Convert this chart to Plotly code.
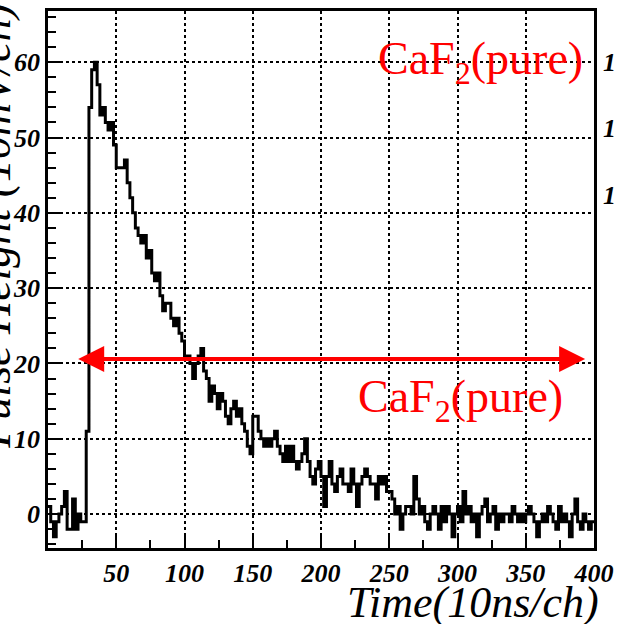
import numpy as np
import plotly.graph_objects as go

# Pulse shape histogram: 2 channels per bin, channels 0-400
bin_width = 2
pulse_height = [
    1, -1, -3, -1, 0, 1, 3, -2, -2, 2,
    -2, 0, -1, -1, 11, 54, 59, 60, 57, 53,
    54, 52, 51, 52, 49, 46, 46, 46, 47, 44,
    42, 40, 38, 37, 36, 37, 34, 35, 32, 31,
    32, 29, 27, 28, 28, 26, 25, 26, 24, 23,
    21, 21, 20, 18, 20, 21, 22, 19, 18, 15,
    17, 16, 14, 16, 15, 13, 12, 14, 15, 13,
    14, 12, 11, 9, 8, 13, 13, 11, 10, 9,
    10, 9, 10, 11, 9, 8, 7, 9, 7, 9,
    7, 6, 7, 8, 10, 7, 5, 4, 6, 7,
    5, 1, 5, 7, 4, 3, 5, 6, 4, 4,
    3, 6, 4, 1, 4, 5, 6, 5, 4, 4,
    2, 5, 4, 5, 3, 3, 2, 0, 1, -2,
    0, 1, 1, 0, 5, 2, 0, 1, -1, -2,
    0, 1, 0, -2, 1, -1, 1, 0, -3, 0,
    1, -1, 3, 0, 1, -1, 0, -3, 0, 1,
    2, -1, 0, 1, -2, 0, -1, 0, 0, -1,
    1, 0, -1, 0, -1, 0, 1, 0, -1, -3,
    -1, 0, -1, 1, 0, -1, -2, 1, -1, 0,
    -1, -3, 0, 2, -1, -2, 0, -1, -2, -1,
]

x_ticks = [50, 100, 150, 200, 250, 300, 350, 400]
y_ticks = [0, 10, 20, 30, 40, 50, 60]
x_range = [0, 400]
y_range = [-4.5, 66.8]

# Arrow marking the fitted window
arrow_start, arrow_end, arrow_level = 21, 393.5, 20.6

label = "CaF<sub>2</sub>(pure)"
x_title = "Time(10ns/ch)"
y_title = "Pulse Height (10mV/ch)"

serif = "Liberation Serif"

edges = np.arange(len(pulse_height) + 1) * bin_width
step_y = list(pulse_height) + [pulse_height[-1]]

fig = go.Figure()
fig.add_trace(go.Scatter(
    x=edges, y=step_y, mode="lines",
    line=dict(color="black", width=3, shape="hv"),
    showlegend=False, hoverinfo="skip",
))

axis_common = dict(
    showline=True, linecolor="black", linewidth=2.5, mirror=True,
    ticks="inside", tickcolor="black", tickwidth=2, ticklen=13,
    showgrid=True, gridcolor="black", gridwidth=1.5, griddash="dot",
    zeroline=False,
    tickfont=dict(family=serif, size=26, color="black",
                  weight="bold", style="italic"),
)

fig.update_xaxes(
    range=x_range, tickmode="array", tickvals=x_ticks,
    minor=dict(tick0=0, dtick=25, ticks="inside", ticklen=8,
               tickwidth=2, tickcolor="black", showgrid=False),
    **axis_common,
)
fig.update_yaxes(
    range=y_range, tickmode="array", tickvals=y_ticks,
    minor=dict(tick0=0, dtick=2, ticks="inside", ticklen=8,
               tickwidth=2, tickcolor="black", showgrid=False),
    **axis_common,
)

annotations = [
    # double-headed red arrow
    dict(x=arrow_end, y=arrow_level, ax=arrow_start, ay=arrow_level,
         xref="x", yref="y", axref="x", ayref="y", text="",
         showarrow=True, arrowhead=2, startarrowhead=2, arrowside="end+start",
         arrowsize=1.3, startarrowsize=1.3, arrowwidth=4, arrowcolor="red"),
    dict(x=0.792, y=0.905, xref="paper", yref="paper", text=label,
         showarrow=False, xanchor="center", yanchor="middle",
         font=dict(family=serif, size=46, color="red")),
    dict(x=0.755, y=0.275, xref="paper", yref="paper", text=label,
         showarrow=False, xanchor="center", yanchor="middle",
         font=dict(family=serif, size=46, color="red")),
    dict(x=1.012, y=-0.052, xref="paper", yref="paper", text=x_title,
         showarrow=False, xanchor="right", yanchor="top",
         font=dict(family=serif, size=44, color="black", style="italic")),
    dict(x=-0.098, y=1.02, xref="paper", yref="paper", text=y_title,
         textangle=-90, showarrow=False, xanchor="center", yanchor="top",
         font=dict(family=serif, size=46, color="black", style="italic")),
]
for yp in [0.905, 0.781, 0.657]:
    annotations.append(dict(
        x=1.012, y=yp, xref="paper", yref="paper", text="1",
        showarrow=False, xanchor="left", yanchor="middle",
        font=dict(family=serif, size=26, color="black",
                  weight="bold", style="italic")))

fig.update_layout(
    width=622, height=624,
    margin=dict(l=48, r=23, t=8, b=76),
    plot_bgcolor="white", paper_bgcolor="white",
    annotations=annotations,
    showlegend=False,
)

fig.write_html("out.html")
